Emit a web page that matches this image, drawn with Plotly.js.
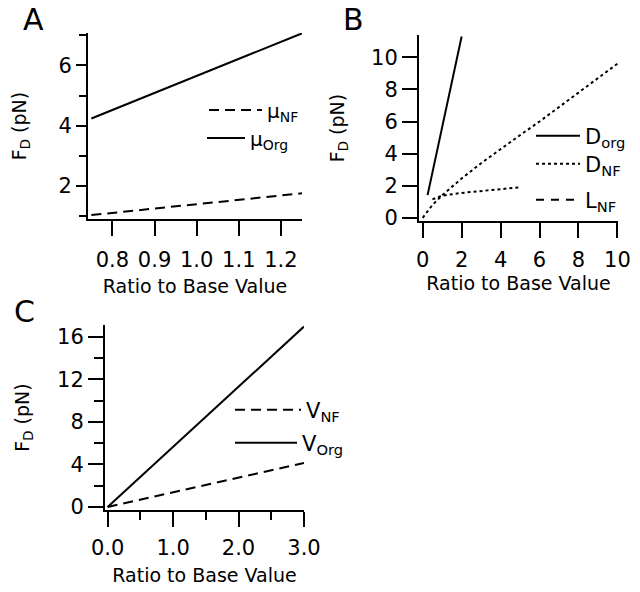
<!DOCTYPE html>
<html><head><meta charset="utf-8">
<script src="https://cdn.plot.ly/plotly-3.0.1.min.js"></script>
<style>html,body{margin:0;padding:0;background:#fff}#chart{width:640px;height:592px}</style>
</head><body><div id="chart"></div><script>
// Panel A
const A_ratio = [0.75, 0.875, 1.0, 1.125, 1.25];
const A_muNF = [1.04, 1.22, 1.40, 1.58, 1.76];
const A_muOrg = [4.24, 4.95, 5.65, 6.36, 7.06];
// Panel B
const B_DorgRatio = [0.25, 0.5, 1.0, 1.5, 2.0];
const B_Dorg = [1.41, 2.83, 5.65, 8.48, 11.3];
const B_DnfRatio = [0, 0.5, 1, 2, 3, 4, 5, 6, 7, 8, 9, 10];
const B_Dnf = [0, 0.8, 1.4, 2.45, 3.4, 4.3, 5.15, 6.0, 6.9, 7.8, 8.7, 9.6];
const B_LnfRatio = [0.5, 1, 2, 3, 4, 5];
const B_Lnf = [1.15, 1.38, 1.55, 1.68, 1.8, 1.9];
// Panel C
const C_ratio = [0, 0.5, 1, 1.5, 2, 2.5, 3];
const C_Vnf = [0, 0.69, 1.38, 2.07, 2.76, 3.45, 4.14];
const C_Vorg = [0, 2.83, 5.65, 8.48, 11.3, 14.13, 16.95];

const xTitle = 'Ratio to Base Value';
const yTitle = 'F<sub>D</sub> (pN)';

const W = 640, H = 592;
const px = v => v / W;
const py = v => 1 - v / H;
const FONT = 'DejaVu Sans';
const K = 'black';
const TICK = 21, TITLE = 19, LEG = 20;

function ln(dash) { return {color: K, width: 2, dash: dash}; }

const traces = [
  {x: A_ratio, y: A_muNF, xaxis: 'x', yaxis: 'y', mode: 'lines', line: ln('10px,6px'), name: '\u03bc<sub>NF</sub>', legend: 'legend'},
  {x: A_ratio, y: A_muOrg, xaxis: 'x', yaxis: 'y', mode: 'lines', line: ln('solid'), name: '\u03bc<sub>Org</sub>', legend: 'legend2'},
  {x: B_DorgRatio, y: B_Dorg, xaxis: 'x2', yaxis: 'y2', mode: 'lines', line: ln('solid'), name: 'D<sub>org</sub>', legend: 'legend3'},
  {x: B_DnfRatio, y: B_Dnf, xaxis: 'x2', yaxis: 'y2', mode: 'lines', line: ln('dot'), name: 'D<sub>NF</sub>', legend: 'legend4'},
  {x: B_LnfRatio, y: B_Lnf, xaxis: 'x2', yaxis: 'y2', mode: 'lines', line: ln('dot'), name: 'L<sub>NF</sub>', showlegend: false},
  {x: [null], y: [null], xaxis: 'x2', yaxis: 'y2', mode: 'lines', line: ln('8px,7px'), name: 'L<sub>NF</sub>', legend: 'legend5'},
  {x: C_ratio, y: C_Vnf, xaxis: 'x3', yaxis: 'y3', mode: 'lines', line: ln('10px,6px'), name: 'V<sub>NF</sub>', legend: 'legend6'},
  {x: C_ratio, y: C_Vorg, xaxis: 'x3', yaxis: 'y3', mode: 'lines', line: ln('solid'), name: 'V<sub>Org</sub>', legend: 'legend7'}
];

function axis(o) {
  const a = {
    showline: true, linewidth: 2, linecolor: K,
    ticks: 'outside', tickwidth: 2, tickcolor: K, ticklen: 15,
    showgrid: false, zeroline: false, fixedrange: true,
    tickfont: {family: FONT, size: TICK, color: K}
  };
  return Object.assign(a, o);
}
function ttl(text, standoff) {
  return {text: text, font: {family: FONT, size: TITLE, color: K}, standoff: standoff};
}

function leg(x, y, iw, size) {
  return {x: px(x), y: py(y), xanchor: 'left', yanchor: 'middle', bgcolor: 'rgba(0,0,0,0)',
    borderwidth: 0, itemwidth: iw, font: {family: FONT, size: size, color: K}, itemclick: false, itemdoubleclick: false};
}

const layout = {
  width: W, height: H,
  margin: {l: 0, r: 0, t: 0, b: 0},
  paper_bgcolor: 'white', plot_bgcolor: 'white',
  font: {family: FONT, color: K},
  showlegend: true,
  xaxis: axis({domain: [px(88), px(302)], anchor: 'y', range: [0.742, 1.25], dtick: 0.1, tick0: 0, tickformat: '.1f',
    ticklabelstandoff: 6, title: ttl(xTitle, 8)}),
  yaxis: axis({domain: [py(219), py(33)], anchor: 'x', range: [0.91, 7.07], dtick: 2, tick0: 0, ticklen: 10,
    minor: {dtick: 1, tick0: 0, ticks: 'outside', ticklen: 7, tickwidth: 2, tickcolor: K, showgrid: false},
    title: ttl(yTitle, 27)}),
  xaxis2: axis({domain: [px(419), px(618)], anchor: 'y2', range: [-0.19, 10.03], dtick: 2, tick0: 0,
    ticklabelstandoff: 4, title: ttl(xTitle, 5)}),
  yaxis2: axis({domain: [py(221), py(35)], anchor: 'x2', range: [-0.2, 11.39], dtick: 2, tick0: 0,
    title: ttl(yTitle, 21)}),
  xaxis3: axis({domain: [px(105), px(304)], anchor: 'y3', range: [-0.04, 3.0], dtick: 1, tick0: 0, tickformat: '.1f',
    minor: {dtick: 0.5, tick0: 0, ticks: 'outside', ticklen: 8, tickwidth: 2, tickcolor: K, showgrid: false},
    ticklabelstandoff: 3, title: ttl(xTitle, 9)}),
  yaxis3: axis({domain: [py(510), py(325)], anchor: 'x3', range: [-0.28, 17.1], dtick: 4, tick0: 0,
    minor: {dtick: 2, tick0: 0, ticks: 'outside', ticklen: 9, tickwidth: 2, tickcolor: K, showgrid: false},
    title: ttl(yTitle, 22)}),
  legend: leg(204, 110, 53, LEG),
  legend2: leg(202, 138, 38, LEG),
  legend3: leg(531, 136, 44, LEG + 1),
  legend4: leg(531, 164, 44, LEG + 1),
  legend5: leg(531, 200, 44, LEG + 1),
  legend6: leg(230, 410, 66, LEG + 1),
  legend7: leg(230, 443, 62, LEG + 1),
  annotations: [
    {text: 'A', xref: 'paper', yref: 'paper', x: px(33), y: py(20), xanchor: 'center', yanchor: 'middle', showarrow: false, font: {family: FONT, size: 30, color: K}},
    {text: 'B', xref: 'paper', yref: 'paper', x: px(353), y: py(20), xanchor: 'center', yanchor: 'middle', showarrow: false, font: {family: FONT, size: 30, color: K}},
    {text: 'C', xref: 'paper', yref: 'paper', x: px(24), y: py(312), xanchor: 'center', yanchor: 'middle', showarrow: false, font: {family: FONT, size: 30, color: K}}
  ]
};

Plotly.newPlot('chart', traces, layout, {displayModeBar: false, staticPlot: true});
</script></body></html>
